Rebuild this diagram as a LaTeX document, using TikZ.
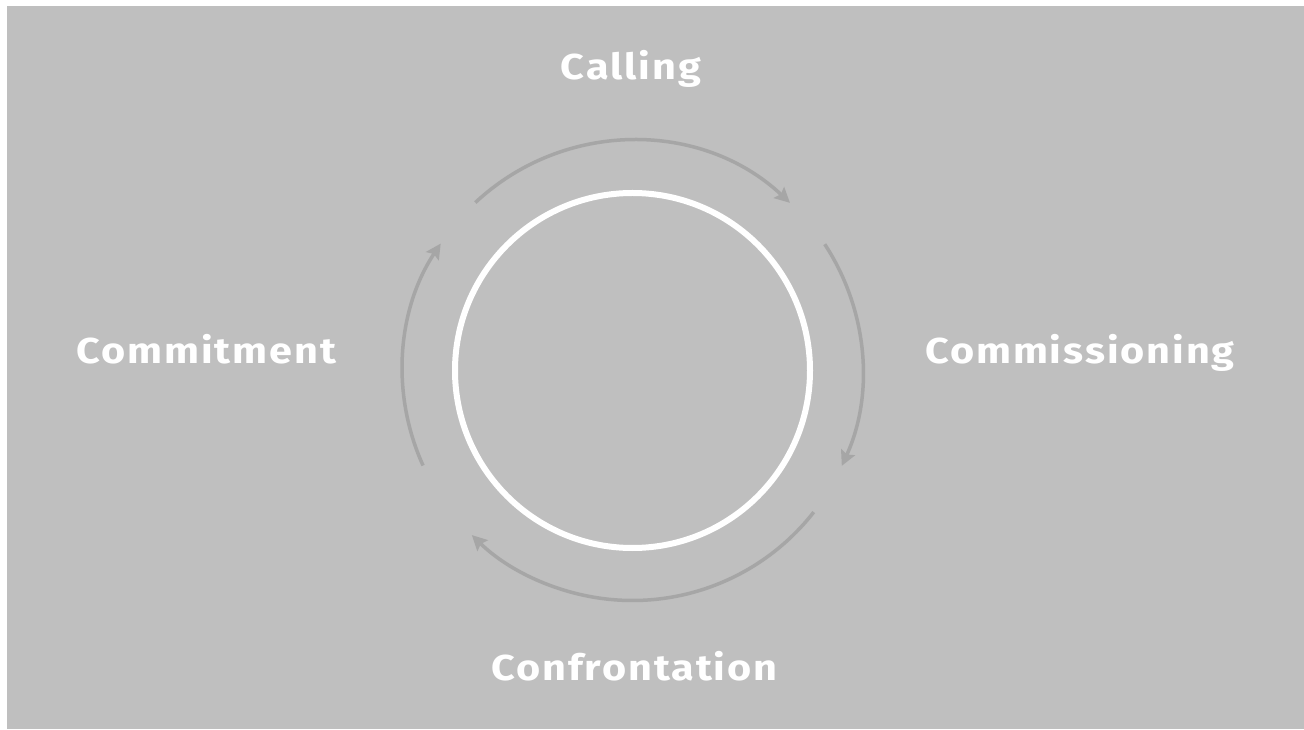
\documentclass[tikz,border=0pt]{standalone}
\usepackage{fontspec}
\setmainfont{Fira Sans}[FakeStretch=1.15,LetterSpace=5.3]
\usetikzlibrary{arrows.meta}
\definecolor{cyclebg}{RGB}{191,191,191}
\definecolor{cyclearrow}{RGB}{166,166,166}

\begin{document}
\begin{tikzpicture}[x=1pt,y=1pt,->,>={Stealth[length=15pt,width=15pt,inset=2.5pt]},
  stage/.style={text=white,font=\bfseries\fontsize{36}{40}\selectfont,anchor=base,inner sep=0pt},
  turn/.style={draw=cyclearrow,line width=3.5pt}]
\useasboundingbox (0,0) rectangle (1304,729);
\fill[cyclebg] (7,0) rectangle (1304,723);
\coordinate (c) at (632.5,358.5);
\draw[-,white,line width=6pt] (c) circle[radius=177.5];

\node[stage] (calling) at (631,649) {Calling};
\node[stage] (commissioning) at (1080,365) {Commissioning};
\node[stage] (confrontation) at (634.5,49) {Confrontation};
\node[stage] (commitment) at (206.5,365) {Commitment};

% arrows round the ring
\foreach \a/\b [count=\i] in {133.1/46.8, 33.3/-24.5, -38/-134.3, 204.4/146.5}{
  \coordinate (s\i) at ([shift={(\a:230)}]c);
  \draw[turn] (s\i) arc[start angle=\a,end angle=\b,radius=230];
}
\end{tikzpicture}
\end{document}
